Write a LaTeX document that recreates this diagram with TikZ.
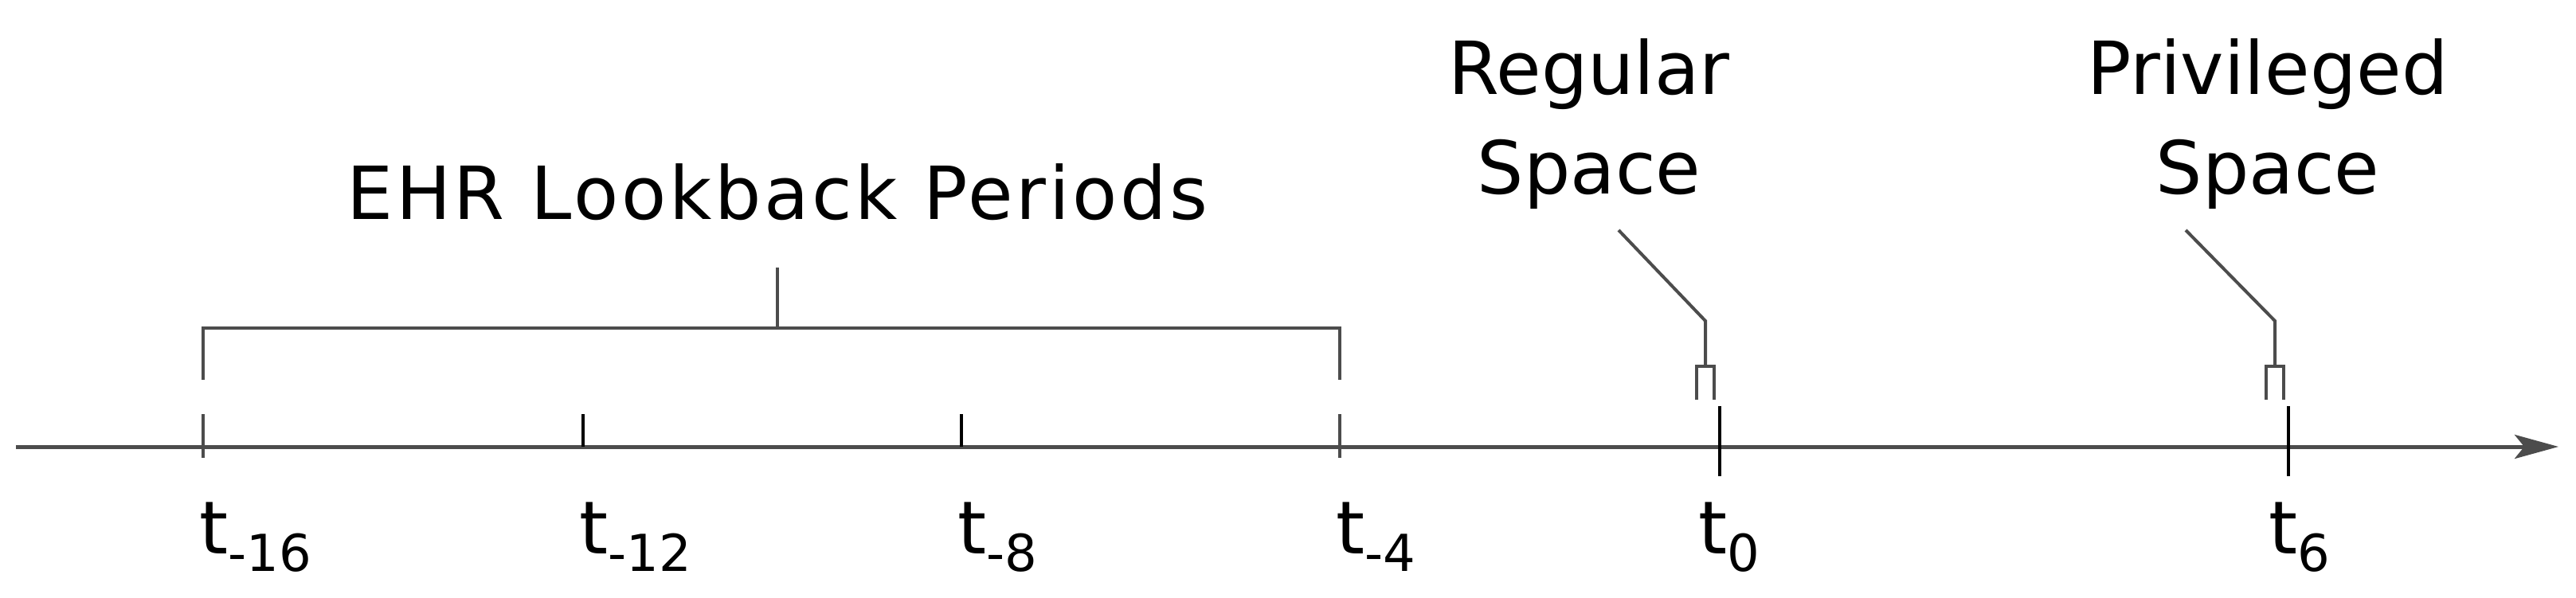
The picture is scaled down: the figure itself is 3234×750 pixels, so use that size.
\documentclass[tikz,border=0pt]{standalone}
\usepackage{fontspec}
\setmainfont{DejaVu Sans}
\usetikzlibrary{arrows.meta}
\newcommand{\tsub}[1]{\raisebox{-22pt}{\fontsize{64}{70}\selectfont #1}}
\begin{document}
\begin{tikzpicture}[x=1pt,y=-1pt,
  axis/.style={line width=5pt,draw=black!70},
  tk/.style={line width=4pt,draw=black},
  br/.style={line width=4.5pt,draw=black!70},
  lab/.style={font=\fontsize{92}{100}\selectfont,inner sep=0pt,anchor=base west},
  ttl/.style={font=\fontsize{92}{100}\selectfont,inner sep=0pt,anchor=base}]
\useasboundingbox (0,0) rectangle (3234,750);
\coordinate (a0) at (20,561);
\coordinate (a1) at (3212,561);
\draw[axis,-{Stealth[length=55pt,width=30pt,inset=12pt]}] (a0) -- (a1);
\draw[tk] (732,520) -- (732,561);
\draw[tk] (1207,520) -- (1207,561);
\draw[br] (255,520) -- (255,575);
\draw[br] (1682,520) -- (1682,575);
\draw[tk] (2159,510) -- (2159,598);
\draw[tk] (2873,510) -- (2873,598);
% labels
\node[lab] (l16) at (250,695) {t\tsub{-16}};
\node[lab] (l12) at (727,695) {t\tsub{-12}};
\node[lab] (l8) at (1202,695) {t\tsub{-8}};
\node[lab] (l4) at (1677,695) {t\tsub{-4}};
\node[lab] (l0) at (2132,695) {t\tsub{0}};
\node[lab] (l6) at (2848,695) {t\tsub{6}};
% EHR bracket
\draw[br] (255,477) -- (255,412) -- (1682,412) -- (1682,477);
\coordinate (bc) at (976,412);
\coordinate (bt) at (976,336);
\draw[br] (bc) -- (bt);
\node[ttl,font=\fontsize{92}{100}\selectfont\addfontfeature{LetterSpace=4}] (ehr) at (976,275) {EHR Lookback Periods};
% Regular callout
\draw[br,line width=4pt] (2130,502) -- (2130,460) -- (2152,460) -- (2152,502);
\coordinate (r1) at (2141,460);
\coordinate (r2) at (2141,403);
\coordinate (r3) at (2032,289);
\draw[br,line width=4pt] (r1) -- (r2) -- (r3);
\node[ttl] (reg1) at (1995,118) {Regular};
\node[ttl] (reg2) at (1995,243) {Space};
% Privileged callout
\draw[br,line width=4pt] (2845,502) -- (2845,460) -- (2867,460) -- (2867,502);
\coordinate (p1) at (2856,460);
\coordinate (p2) at (2856,403);
\coordinate (p3) at (2744,289);
\draw[br,line width=4pt] (p1) -- (p2) -- (p3);
\node[ttl] (pr1) at (2847,118) {Privileged};
\node[ttl] (pr2) at (2847,243) {Space};
\end{tikzpicture}
\end{document}
